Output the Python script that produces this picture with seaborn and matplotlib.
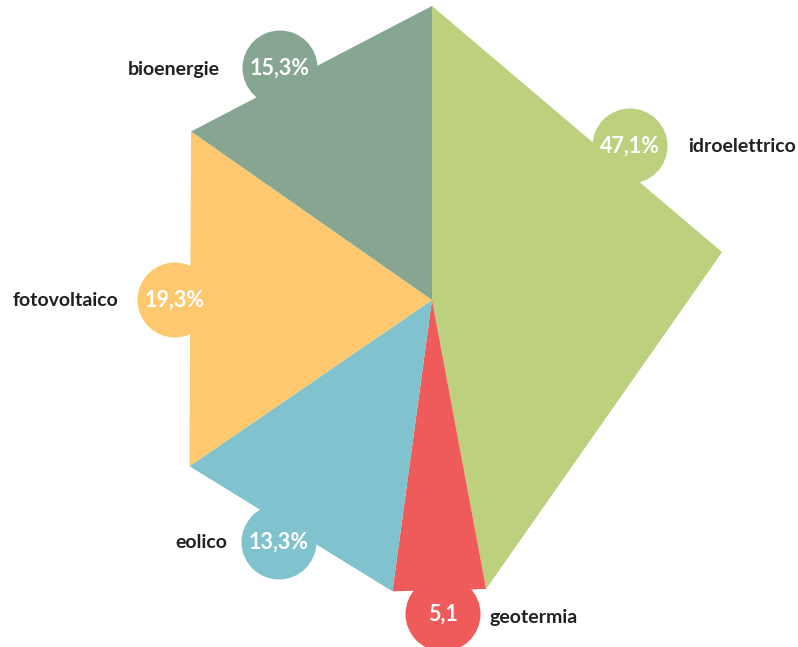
import math
import matplotlib
matplotlib.use("Agg")
import matplotlib.pyplot as plt
from matplotlib.patches import Polygon, Circle
import seaborn as sns

# Quota di energia elettrica da fonti rinnovabili
categories = ["idroelettrico", "geotermia", "eolico", "fotovoltaico", "bioenergie"]
shares = [47.1, 5.1, 13.3, 19.3, 15.3]
share_labels = ["47,1%", "5,1", "13,3%", "19,3%", "15,3%"]
colors = ["#BCD07D", "#EF5A5A", "#80C3CE", "#FDC86E", "#86A692"]

# Layout (pixel coordinates, y from top): label bubble centre, name anchor, alignment
W, H = 798, 647
bubble_pos = {
    "idroelettrico": (630, 146),
    "geotermia": (443, 614),
    "eolico": (279, 542),
    "fotovoltaico": (175, 300),
    "bioenergie": (280, 68),
}
name_pos = {
    "idroelettrico": (688, 147, "left"),
    "geotermia": (490, 617, "left"),
    "eolico": (227, 542, "right"),
    "fotovoltaico": (118, 301, "right"),
    "bioenergie": (220, 69, "right"),
}
# extra corner points along the outer edge of wide slices (fraction of the slice angle)
edge_breaks = {"idroelettrico": [0.476]}
BUBBLE_R = 37.5
PIE_CENTER = (432, 300)
PIE_R = 294

sns.set_theme(style="white")
plt.rcParams["font.family"] = ["Lato", "DejaVu Sans"]

fig = plt.figure(figsize=(W / 100, H / 100), dpi=100)
ax = fig.add_axes([0, 0, 1, 1])


def to_data(x, y):
    return x, H - y


cx, cy = to_data(*PIE_CENTER)
wedges, _ = ax.pie(shares, colors=colors, startangle=90, counterclock=False,
                   center=(cx, cy), radius=PIE_R, frame=True)

# Replace each curved wedge with a straight-edged polygon
for cat, w in zip(categories, wedges):
    t1, t2 = w.theta1, w.theta2
    fracs = [0.0] + edge_breaks.get(cat, []) + [1.0]
    # pie runs clockwise, so the slice starts at theta2
    pts = [(cx, cy)]
    for f in fracs:
        a = math.radians(t2 - (t2 - t1) * f)
        pts.append((cx + PIE_R * math.cos(a), cy + PIE_R * math.sin(a)))
    poly = Polygon(pts, closed=True, facecolor=w.get_facecolor(),
                   edgecolor="none", zorder=1)
    w.remove()
    ax.add_patch(poly)

for cat, lab, col in zip(categories, share_labels, colors):
    bx, by = to_data(*bubble_pos[cat])
    ax.add_patch(Circle((bx, by), BUBBLE_R, facecolor=col, edgecolor="none", zorder=2))
    ax.text(bx, by, lab, color="white", fontsize=15.5, fontweight="bold",
            ha="center", va="center", zorder=3)
    nx, ny, ha = name_pos[cat]
    nx, ny = to_data(nx, ny)
    ax.text(nx, ny, cat, color="#231F20", fontsize=14, fontweight="bold",
            ha=ha, va="center", zorder=3)

ax.set_xlim(0, W)
ax.set_ylim(0, H)
ax.set_aspect("equal")
ax.axis("off")

fig.savefig("out.png", dpi=100, facecolor="white")
